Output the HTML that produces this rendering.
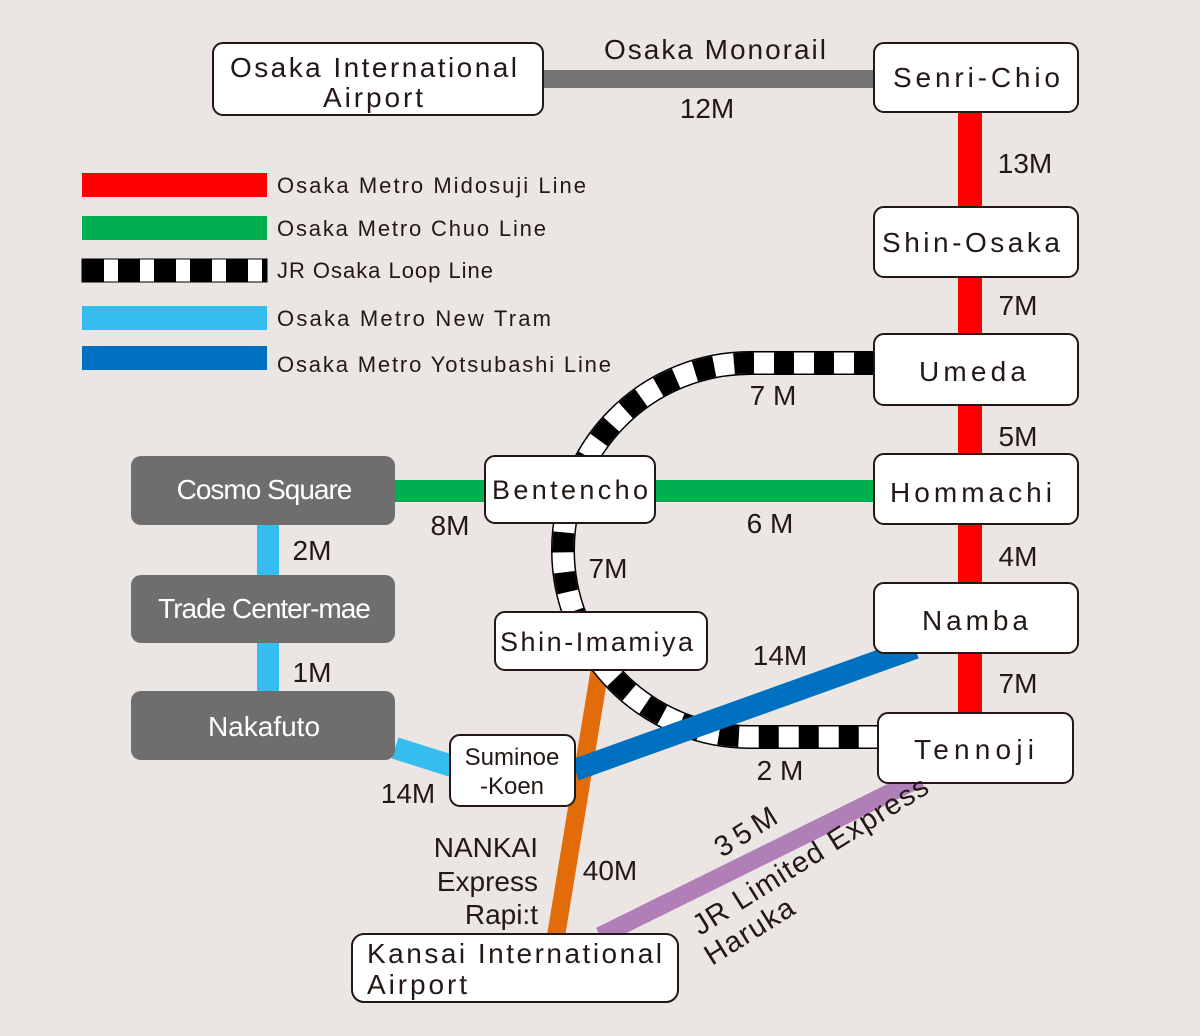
<!DOCTYPE html>
<html><head><meta charset="utf-8"><style>
html,body{margin:0;padding:0;background:#ebe6e3}
svg{display:block}
text{font-family:"Liberation Sans","DejaVu Sans",sans-serif;fill:#231815}
</style></head><body>
<svg width="1200" height="1036" viewBox="0 0 1200 1036" xmlns="http://www.w3.org/2000/svg">
<rect width="1200" height="1036" fill="#ebe6e3"/>
<!-- legend -->
<rect x="82" y="173" width="185" height="24" fill="#ff0000"/>
<rect x="82" y="216" width="185" height="24" fill="#00b050"/>
<rect x="82" y="259" width="185" height="23" fill="#fff" stroke="#000" stroke-width="1"/>
<line x1="82" y1="270.5" x2="267" y2="270.5" stroke="#000" stroke-width="23" stroke-dasharray="22,14"/>
<rect x="82" y="306" width="185" height="24" fill="#35bdf0"/>
<rect x="82" y="346" width="185" height="24" fill="#0070c0"/>
<g font-size="22" lengthAdjust="spacingAndGlyphs">
<text x="277" y="193" textLength="309">Osaka Metro Midosuji Line</text>
<text x="277" y="236" textLength="269">Osaka Metro Chuo Line</text>
<text x="277" y="278" textLength="216">JR Osaka Loop Line</text>
<text x="277" y="326" textLength="274">Osaka Metro New Tram</text>
<text x="277" y="372" textLength="334">Osaka Metro Yotsubashi Line</text>
</g>
<!-- lines -->
<line x1="543" y1="79" x2="874" y2="79" stroke="#737373" stroke-width="18"/>
<line x1="970" y1="110" x2="970" y2="715" stroke="#ff0000" stroke-width="24"/>
<line x1="395" y1="491" x2="874" y2="491" stroke="#00b050" stroke-width="22"/>
<line x1="268" y1="525" x2="268" y2="691" stroke="#35bdf0" stroke-width="22"/>
<line x1="395" y1="748" x2="452" y2="766" stroke="#35bdf0" stroke-width="22"/>
<line x1="600" y1="668" x2="556" y2="936" stroke="#e36c0a" stroke-width="18"/>
<!-- loop -->
<path d="M874,363 L750,363 A187,187 0 0 0 750,737 L878,737" fill="none" stroke="#000" stroke-width="24"/>
<path d="M874,363 L750,363 A187,187 0 0 0 750,737 L878,737" fill="none" stroke="#fff" stroke-width="21"/>
<path d="M874,363 L750,363 A187,187 0 0 0 750,737 L878,737" fill="none" stroke="#000" stroke-width="21" stroke-dasharray="20,20"/>
<line x1="575" y1="770" x2="915" y2="648" stroke="#0070c0" stroke-width="22"/>
<line x1="600" y1="936" x2="920" y2="778" stroke="#b07fb8" stroke-width="18"/>
<!-- boxes -->
<g fill="#fff" stroke="#231815" stroke-width="2">
<rect x="213" y="43" width="330" height="72" rx="10"/>
<rect x="874" y="43" width="204" height="69" rx="10"/>
<rect x="874" y="207" width="204" height="70" rx="10"/>
<rect x="874" y="334" width="204" height="71" rx="10"/>
<rect x="874" y="454" width="204" height="70" rx="10"/>
<rect x="874" y="583" width="204" height="70" rx="10"/>
<rect x="878" y="713" width="195" height="70" rx="10"/>
<rect x="485" y="456" width="170" height="67" rx="10"/>
<rect x="495" y="612" width="212" height="58" rx="10"/>
<rect x="450" y="735" width="125" height="71" rx="10"/>
<rect x="352" y="934" width="326" height="68" rx="12"/>
</g>
<g fill="#6e6e6e">
<rect x="131" y="456" width="264" height="69" rx="10"/>
<rect x="131" y="575" width="264" height="68" rx="10"/>
<rect x="131" y="691" width="264" height="69" rx="10"/>
</g>
<g font-size="28" lengthAdjust="spacingAndGlyphs">
<text x="230" y="77" textLength="287">Osaka International</text>
<text x="323" y="107" textLength="100">Airport</text>
<text x="893" y="87" textLength="167">Senri-Chio</text>
<text x="882" y="252" textLength="178">Shin-Osaka</text>
<text x="919" y="381" textLength="107">Umeda</text>
<text x="890" y="502" textLength="162">Hommachi</text>
<text x="922" y="630" textLength="106">Namba</text>
<text x="914" y="759" textLength="120">Tennoji</text>
<text x="492" y="499" font-size="27" textLength="156">Bentencho</text>
<text x="500" y="651" font-size="27" textLength="193">Shin-Imamiya</text>
<text x="604" y="59" textLength="222">Osaka Monorail</text>
<text x="367" y="963" textLength="295">Kansai International</text>
<text x="367" y="994" textLength="100">Airport</text>
</g>
<g font-size="28" text-anchor="middle">
<text x="512" y="765" font-size="24">Suminoe</text>
<text x="512" y="794" font-size="24">-Koen</text>
<text x="264" y="499" style="fill:#fff;letter-spacing:-1px">Cosmo Square</text>
<text x="264" y="618" style="fill:#fff;letter-spacing:-1px">Trade Center-mae</text>
<text x="264" y="736" style="fill:#fff">Nakafuto</text>
<text x="707" y="118">12M</text>
<text x="1025" y="173">13M</text>
<text x="1018" y="315">7M</text>
<text x="1018" y="446">5M</text>
<text x="1018" y="566">4M</text>
<text x="1018" y="693">7M</text>
<text x="773" y="405">7 M</text>
<text x="450" y="535">8M</text>
<text x="770" y="533">6 M</text>
<text x="608" y="578">7M</text>
<text x="312" y="560">2M</text>
<text x="312" y="682">1M</text>
<text x="780" y="665">14M</text>
<text x="408" y="803">14M</text>
<text x="780" y="780">2 M</text>
<text x="610" y="880">40M</text>
</g>
<g font-size="28" text-anchor="end">
<text x="538" y="857">NANKAI</text>
<text x="538" y="891">Express</text>
<text x="538" y="924">Rapi:t</text>
</g>
<g font-size="29" lengthAdjust="spacingAndGlyphs">
<text transform="translate(722,858) rotate(-32)" textLength="68">35M</text>
<text transform="translate(700,936) rotate(-32)" textLength="272">JR Limited Express</text>
<text transform="translate(712,966) rotate(-32)" textLength="100">Haruka</text>
</g>
</svg>
</body></html>
